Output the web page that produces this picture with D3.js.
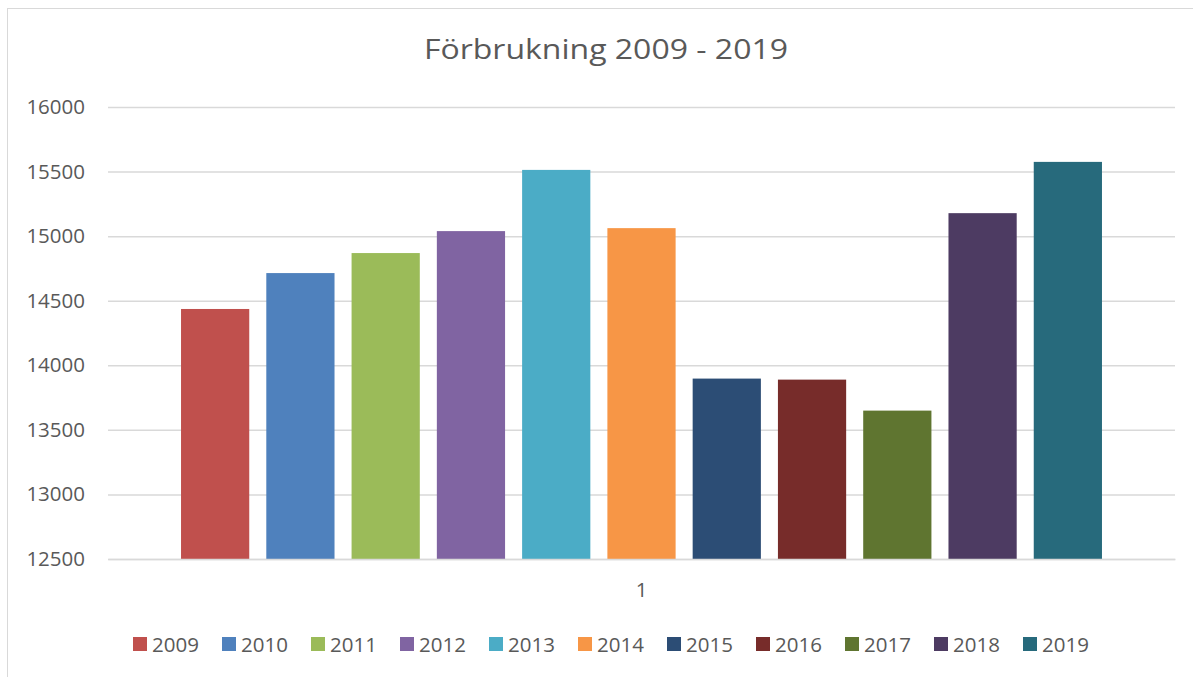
<!DOCTYPE html>
<html>
<head>
<meta charset="utf-8">
<script src="https://cdn.jsdelivr.net/npm/d3@7"></script>
<style>
  body { margin: 0; background: #fff; }
  svg text { font-family: "Open Sans", sans-serif; fill: #595959; }
</style>
</head>
<body>
<div id="chart"></div>
<script>
// data
const years = ["2009", "2010", "2011", "2012", "2013", "2014", "2015", "2016", "2017", "2018", "2019"];
const values = [14436, 14714, 14869, 15039, 15513, 15062, 13897, 13889, 13649, 15178, 15575];
const colors = ["#C0504D", "#4F81BD", "#9BBB59", "#8064A2", "#4BACC6", "#F79646", "#2C4D75", "#772C2A", "#5F7530", "#4D3B62", "#276A7C"];
const categories = ["1"];
const yTicks = [12500, 13000, 13500, 14000, 14500, 15000, 15500, 16000];
const title = "Förbrukning 2009 - 2019";

const width = 1193, height = 677;
const plot = { left: 108, right: 1175, top: 107, bottom: 559 };

const svg = d3.select("#chart").append("svg")
    .attr("width", width)
    .attr("height", height);

// chart frame
svg.append("rect")
    .attr("x", 7.5).attr("y", 8.5)
    .attr("width", width + 20).attr("height", height + 20)
    .attr("fill", "none")
    .attr("stroke", "#d9d9d9")
    .attr("stroke-width", 1);

svg.append("text")
    .attr("x", 606).attr("y", 59)
    .attr("text-anchor", "middle")
    .attr("textLength", 364)
    .attr("lengthAdjust", "spacingAndGlyphs")
    .style("font-size", "27px")
    .text(title);

const y = d3.scaleLinear().domain([12500, 16000]).range([plot.bottom, plot.top]);

const xOuter = d3.scaleBand()
    .domain(categories)
    .range([plot.left, plot.right])
    .paddingOuter(0.0793);

const xInner = d3.scaleBand()
    .domain(years)
    .range([0, xOuter.bandwidth()])
    .paddingInner(0.2);

// gridlines
const yAxis = d3.axisLeft(y)
    .tickValues(yTicks)
    .tickSize(-(plot.right - plot.left))
    .tickPadding(23)
    .tickFormat(d3.format("d"));

const yAxisG = svg.append("g")
    .attr("transform", "translate(" + plot.left + ",0)")
    .call(yAxis);
yAxisG.select(".domain").remove();
yAxisG.selectAll(".tick line")
    .attr("stroke", "#d9d9d9")
    .attr("stroke-width", 1.5);
yAxisG.selectAll(".tick text")
    .style("font-size", "20.5px")
    .attr("fill", "#595959");

// bars
svg.append("g").selectAll("rect")
    .data(years)
    .enter()
    .append("rect")
    .attr("x", (d) => xOuter("1") + xInner(d))
    .attr("y", (d, i) => y(values[i]))
    .attr("width", xInner.bandwidth())
    .attr("height", (d, i) => y(12500) - y(values[i]))
    .attr("fill", (d, i) => colors[i]);

// category axis
const xAxis = d3.axisBottom(xOuter).tickSize(0).tickPadding(23.5);
const xAxisG = svg.append("g")
    .attr("transform", "translate(0," + plot.bottom + ")")
    .call(xAxis);
xAxisG.select(".domain")
    .attr("stroke", "#d9d9d9")
    .attr("stroke-width", 1.5);
xAxisG.selectAll(".tick text")
    .style("font-size", "20.5px")
    .attr("fill", "#595959");

// legend
const legendStep = 89;
const legend = svg.append("g")
    .attr("transform", "translate(133,637)");

const items = legend.selectAll("g")
    .data(years)
    .enter()
    .append("g")
    .attr("transform", (d, i) => "translate(" + (i * legendStep) + ",0)");

items.append("rect")
    .attr("width", 14).attr("height", 14)
    .attr("fill", (d, i) => colors[i]);

items.append("text")
    .attr("x", 19).attr("y", 14.5)
    .style("font-size", "20.5px")
    .text((d) => d);
</script>
</body>
</html>
